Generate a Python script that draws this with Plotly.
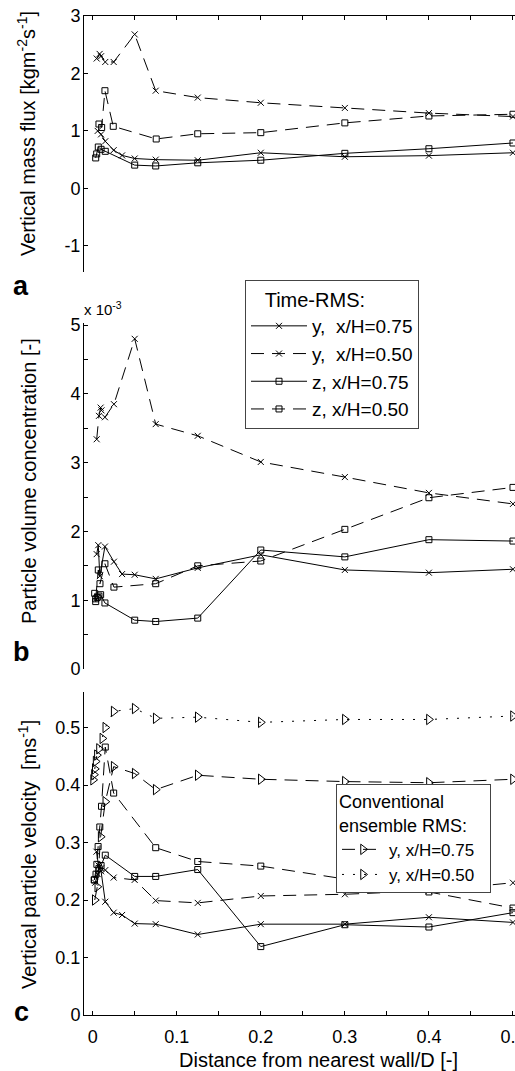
import plotly.graph_objects as go

# ---------------- data ----------------
# (a) vertical mass flux [kg m^-2 s^-1]
flux_y75_x = [0.006, 0.010, 0.015, 0.025, 0.035, 0.05, 0.075, 0.125, 0.2, 0.3, 0.4, 0.5]
flux_y75_v = [1.00, 0.94, 0.82, 0.665, 0.574, 0.52, 0.50, 0.49, 0.62, 0.55, 0.57, 0.62]
flux_y50_x = [0.0048, 0.0083, 0.010, 0.015, 0.025, 0.05, 0.075, 0.125, 0.2, 0.3, 0.4, 0.5]
flux_y50_v = [2.26, 2.34, 2.30, 2.20, 2.20, 2.68, 1.70, 1.58, 1.49, 1.40, 1.31, 1.25]
flux_z75_x = [0.0036, 0.0048, 0.0067, 0.010, 0.015, 0.05, 0.075, 0.125, 0.2, 0.3, 0.4, 0.5]
flux_z75_v = [0.53, 0.60, 0.72, 0.68, 0.645, 0.405, 0.39, 0.445, 0.49, 0.61, 0.69, 0.79]
flux_z50_x = [0.0075, 0.0107, 0.0146, 0.0245, 0.0756, 0.125, 0.2, 0.3, 0.4, 0.5]
flux_z50_v = [1.12, 1.06, 1.70, 1.08, 0.86, 0.95, 0.97, 1.14, 1.26, 1.29]

# (b) particle volume concentration [x 1e-3]
conc_y75_x = [0.0048, 0.0067, 0.0085, 0.0146, 0.0253, 0.035, 0.05, 0.075, 0.125, 0.2, 0.3, 0.4, 0.5]
conc_y75_v = [1.67, 1.80, 1.35, 1.78, 1.56, 1.38, 1.37, 1.31, 1.47, 1.66, 1.44, 1.40, 1.45]
conc_y50_x = [0.0048, 0.0075, 0.0095, 0.0105, 0.0146, 0.0253, 0.05, 0.075, 0.125, 0.2, 0.3, 0.4, 0.5]
conc_y50_v = [3.34, 3.68, 3.80, 3.76, 3.66, 3.85, 4.80, 3.56, 3.39, 3.01, 2.79, 2.56, 2.40]
conc_z75_x = [0.0024, 0.0036, 0.0055, 0.0075, 0.0095, 0.0146, 0.05, 0.075, 0.125, 0.2, 0.3, 0.4, 0.5]
conc_z75_v = [1.10, 0.98, 1.04, 1.06, 1.08, 0.96, 0.71, 0.69, 0.74, 1.73, 1.63, 1.88, 1.86]
conc_z50_x = [0.0036, 0.0067, 0.0087, 0.0146, 0.0253, 0.075, 0.125, 0.2, 0.3, 0.4, 0.5]
conc_z50_v = [1.02, 1.44, 1.24, 1.53, 1.19, 1.24, 1.50, 1.57, 2.03, 2.49, 2.64]

# (c) vertical particle velocity [m s^-1]
vel_y75_x = [0.0045, 0.007, 0.010, 0.015, 0.025, 0.035, 0.05, 0.075, 0.125, 0.2, 0.3, 0.4, 0.5]
vel_y75_v = [0.284, 0.26, 0.25, 0.197, 0.178, 0.174, 0.159, 0.158, 0.140, 0.158, 0.158, 0.170, 0.161]
vel_y50_x = [0.003, 0.006, 0.010, 0.015, 0.025, 0.05, 0.075, 0.125, 0.2, 0.3, 0.4, 0.5]
vel_y50_v = [0.23, 0.245, 0.255, 0.252, 0.239, 0.235, 0.199, 0.195, 0.207, 0.210, 0.216, 0.230]
vel_z75_x = [0.002, 0.004, 0.0075, 0.010, 0.015, 0.05, 0.075, 0.125, 0.2, 0.3, 0.4, 0.5]
vel_z75_v = [0.235, 0.245, 0.255, 0.26, 0.278, 0.241, 0.241, 0.253, 0.119, 0.157, 0.153, 0.178]
vel_z50_x = [0.002, 0.005, 0.0065, 0.0085, 0.0105, 0.015, 0.025, 0.075, 0.125, 0.2, 0.3, 0.4, 0.5]
vel_z50_v = [0.235, 0.262, 0.293, 0.327, 0.363, 0.466, 0.386, 0.291, 0.267, 0.259, 0.236, 0.214, 0.186]
vel_conv75_x = [0.0025, 0.0055, 0.0095, 0.015, 0.025, 0.05, 0.075, 0.125, 0.2, 0.3, 0.4, 0.5]
vel_conv75_v = [0.200, 0.223, 0.310, 0.371, 0.432, 0.420, 0.392, 0.417, 0.410, 0.406, 0.404, 0.410]
vel_conv50_x = [0.0005, 0.0015, 0.0025, 0.0035, 0.005, 0.0075, 0.0115, 0.015, 0.025, 0.05, 0.075, 0.125, 0.2, 0.3, 0.4, 0.5]
vel_conv50_v = [0.409, 0.418, 0.428, 0.441, 0.452, 0.463, 0.481, 0.500, 0.528, 0.533, 0.516, 0.518, 0.509, 0.514, 0.514, 0.520]

legend_names = ["y,\u00a0\u00a0x/H=0.75", "y,\u00a0\u00a0x/H=0.50", "z, x/H=0.75", "z, x/H=0.50"]
conv_names = ["y, x/H=0.75", "y, x/H=0.50"]

flux_ticks = [-1, 0, 1, 2, 3]
flux_ticktext = ["-1", "0", "1", "2", "3"]

# ---------------- styling ----------------
W, H = 515, 1071
FONT = "Liberation Sans, Arial, Helvetica, sans-serif"
DASH = "13px,8px"
DOT = "2px,9px"

def ydom(top_px, bot_px):
    return [1 - bot_px / H, 1 - top_px / H]

fig = go.Figure()

def add(x, y, ax, symbol, dash, name=None, legend=None, size=6):
    fig.add_trace(go.Scatter(
        x=x, y=y, xaxis="x" + ax, yaxis="y" + ax,
        mode="lines+markers",
        line=dict(color="black", width=1, dash=dash),
        marker=dict(symbol=symbol, size=size, color="black",
                    line=dict(color="black", width=1)),
        name=name if name else "",
        showlegend=name is not None,
        legend=legend if legend else "legend",
    ))

# panel a
add(flux_y75_x, flux_y75_v, "", "x-thin-open", "solid", legend_names[0])
add(flux_y50_x, flux_y50_v, "", "x-thin-open", DASH, legend_names[1])
add(flux_z75_x, flux_z75_v, "", "square-open", "solid", legend_names[2])
add(flux_z50_x, flux_z50_v, "", "square-open", DASH, legend_names[3])
# panel b
add(conc_y75_x, conc_y75_v, "2", "x-thin-open", "solid")
add(conc_y50_x, conc_y50_v, "2", "x-thin-open", DASH)
add(conc_z75_x, conc_z75_v, "2", "square-open", "solid")
add(conc_z50_x, conc_z50_v, "2", "square-open", DASH)
# panel c
add(vel_y75_x, vel_y75_v, "3", "x-thin-open", "solid")
add(vel_y50_x, vel_y50_v, "3", "x-thin-open", DASH)
add(vel_z75_x, vel_z75_v, "3", "square-open", "solid")
add(vel_z50_x, vel_z50_v, "3", "square-open", DASH)
add(vel_conv75_x, vel_conv75_v, "3", "triangle-right-open", DASH, conv_names[0], "legend2", size=9)
add(vel_conv50_x, vel_conv50_v, "3", "triangle-right-open", DOT, conv_names[1], "legend2", size=9)

xr = [-0.0103, 0.5024]
xdom = [84 / W, 1.0]
tickfont = dict(family=FONT, size=18, color="black")

common_y = dict(showline=True, linecolor="black", linewidth=1, ticks="inside",
                ticklen=4, tickcolor="black", showgrid=False, zeroline=False,
                tickfont=tickfont, ticklabelstandoff=-1)

fig.update_layout(
    width=W, height=H,
    margin=dict(l=0, r=0, t=0, b=0, autoexpand=False),
    paper_bgcolor="white", plot_bgcolor="white",
    font=dict(family=FONT, color="black"),
    xaxis=dict(domain=xdom, range=xr, anchor="y", side="top", showline=True,
               linecolor="black", linewidth=1, ticks="inside", ticklen=4,
               tickcolor="black", dtick=0.05, tick0=0, showticklabels=False,
               showgrid=False, zeroline=False),
    yaxis=dict(domain=ydom(16, 271.7), range=[-1.45, 3], anchor="x",
               tickvals=flux_ticks, ticktext=flux_ticktext, **common_y),
    xaxis2=dict(domain=xdom, range=xr, anchor="y2", visible=False),
    yaxis2=dict(domain=ydom(323, 669), range=[0, 5.03], anchor="x2",
                dtick=1, tick0=0,
                minor=dict(dtick=0.5, ticks="inside", ticklen=4, tickcolor="black"),
                **common_y),
    xaxis3=dict(domain=xdom, range=xr, anchor="y3", showline=True,
                linecolor="black", linewidth=1, ticks="inside", ticklen=4,
                tickcolor="black", dtick=0.1, tick0=0,
                minor=dict(dtick=0.05, ticks="inside", ticklen=4, tickcolor="black"),
                showgrid=False, zeroline=False, tickfont=tickfont,
                ticklabelstandoff=5, ticklabeloverflow="allow"),
    yaxis3=dict(domain=ydom(691.7, 1015), range=[0, 0.5623], anchor="x3",
                dtick=0.1, tick0=0, **common_y),
    legend=dict(x=245 / W, y=1 - 280 / H, xanchor="left", yanchor="top",
                bgcolor="white", bordercolor="#444", borderwidth=1,
                font=dict(family=FONT, size=19, color="black"),
                title=dict(text="\u00a0\u00a0\u00a0Time-RMS:", font=dict(family=FONT, size=20, color="black")),
                tracegroupgap=0, itemwidth=56),
    legend2=dict(x=336 / W, y=1 - 784 / H, xanchor="left", yanchor="top",
                 bgcolor="white", bordercolor="#444", borderwidth=1,
                 font=dict(family=FONT, size=17, color="black"),
                 title=dict(text="Conventional<br>ensemble RMS:\u00a0\u00a0\u00a0\u00a0",
                            font=dict(family=FONT, size=18, color="black")),
                 tracegroupgap=0, itemwidth=42),
)

ann_font = dict(family=FONT, size=20, color="black")
annotations = [
    dict(text="Vertical mass flux [kgm<sup>-2</sup>s<sup>-1</sup>]", x=26 / W, y=1 - 134 / H,
         textangle=-90, font=ann_font),
    dict(text="Particle volume concentration [-]", x=29 / W, y=1 - 481 / H,
         textangle=-90, font=ann_font),
    dict(text="Vertical particle velocity\u00a0 [ms<sup>-1</sup>]", x=27 / W, y=1 - 855 / H,
         textangle=-90, font=ann_font),
    dict(text="Distance from nearest wall/D [-]", x=318 / W, y=1 - 1060 / H,
         font=ann_font),
    dict(text="x 10<sup>-3</sup>", x=82 / W, y=1 - 320 / H, xanchor="left", yanchor="bottom",
         font=dict(family=FONT, size=15, color="black")),
    dict(text="<b>a</b>", x=21 / W, y=1 - 286 / H, font=dict(family=FONT, size=27, color="black")),
    dict(text="<b>b</b>", x=21 / W, y=1 - 652 / H, font=dict(family=FONT, size=27, color="black")),
    dict(text="<b>c</b>", x=21 / W, y=1 - 1012 / H, font=dict(family=FONT, size=27, color="black")),
]
for a in annotations:
    a.update(xref="paper", yref="paper", showarrow=False)
    a.setdefault("xanchor", "center")
    a.setdefault("yanchor", "middle")
fig.update_layout(annotations=annotations)

fig.write_html("out.html", config={"displayModeBar": False, "responsive": False},
               post_script="document.body.style.margin='0px';document.body.style.overflow='hidden';")
